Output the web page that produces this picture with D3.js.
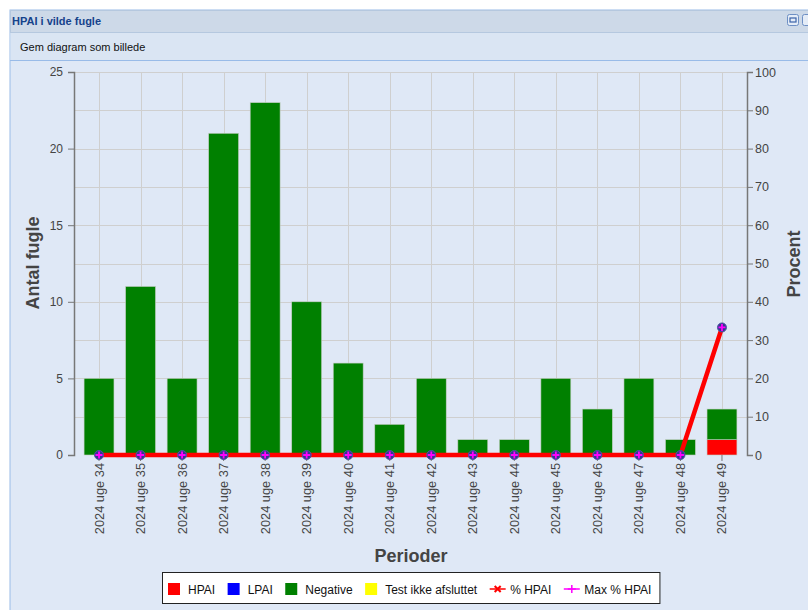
<!DOCTYPE html>
<html>
<head>
<meta charset="utf-8">
<script src="https://cdn.jsdelivr.net/npm/d3@7"></script>
<style>
    body { margin: 0; background: #fff; font-family: "Liberation Sans", Arial, sans-serif; }
    svg { display: block; }
</style>
</head>
<body>
<div id="chart"></div>
<script>
// Data
let periods = ["2024 uge 34", "2024 uge 35", "2024 uge 36", "2024 uge 37", "2024 uge 38", "2024 uge 39",
    "2024 uge 40", "2024 uge 41", "2024 uge 42", "2024 uge 43", "2024 uge 44", "2024 uge 45",
    "2024 uge 46", "2024 uge 47", "2024 uge 48", "2024 uge 49"];
let hpai = [0, 0, 0, 0, 0, 0, 0, 0, 0, 0, 0, 0, 0, 0, 0, 1];
let lpai = [0, 0, 0, 0, 0, 0, 0, 0, 0, 0, 0, 0, 0, 0, 0, 0];
let negative = [5, 11, 5, 21, 23, 10, 6, 2, 5, 1, 1, 5, 3, 5, 1, 2];
let notDone = [0, 0, 0, 0, 0, 0, 0, 0, 0, 0, 0, 0, 0, 0, 0, 0];
let pctHpai = [0, 0, 0, 0, 0, 0, 0, 0, 0, 0, 0, 0, 0, 0, 0, 33.3];
let maxPctHpai = [0, 0, 0, 0, 0, 0, 0, 0, 0, 0, 0, 0, 0, 0, 0, 33.3];
let countTicks = [0, 5, 10, 15, 20, 25];
let pctTicks = [0, 10, 20, 30, 40, 50, 60, 70, 80, 90, 100];

let series = [
    { name: "HPAI", values: hpai, color: "#ff0000" },
    { name: "LPAI", values: lpai, color: "#0000ff" },
    { name: "Negative", values: negative, color: "#008000" },
    { name: "Test ikke afsluttet", values: notDone, color: "#ffff00" }
];

let W = 808, H = 610;
let plot = { left: 74, right: 747, top: 72, bottom: 455 };
let textColor = "#444";

let svg = d3.select("#chart").append("svg")
    .attr("width", W)
    .attr("height", H);

// Panel frame
svg.append("rect").attr("x", 10).attr("y", 10).attr("width", W).attr("height", H)
    .attr("fill", "#dfe8f6").attr("stroke", "#99bbe8");
svg.append("rect").attr("x", 10.5).attr("y", 10.5).attr("width", W).attr("height", 22)
    .attr("fill", "#cdd9e8").attr("stroke", "#b5c8df");
svg.append("text").attr("x", 12).attr("y", 25)
    .style("font-size", "11px").style("font-weight", "bold").attr("fill", "#15428b")
    .text("HPAI i vilde fugle");
svg.append("rect").attr("x", 787.5).attr("y", 14.5).attr("width", 11).attr("height", 11).attr("rx", 2)
    .attr("fill", "#e4ecf7").attr("stroke", "#6d8fc4");
svg.append("rect").attr("x", 790).attr("y", 18).attr("width", 6).attr("height", 4)
    .attr("fill", "none").attr("stroke", "#3b63a8").attr("stroke-width", 1.2);
svg.append("rect").attr("x", 802.5).attr("y", 14.5).attr("width", 11).attr("height", 11).attr("rx", 2)
    .attr("fill", "#e4ecf7").attr("stroke", "#6d8fc4");
svg.append("rect").attr("x", 10.5).attr("y", 33).attr("width", W).attr("height", 27)
    .attr("fill", "#dae5f3");
svg.append("line").attr("x1", 10).attr("x2", W).attr("y1", 60.5).attr("y2", 60.5)
    .attr("stroke", "#99bbe8");
svg.append("text").attr("x", 20).attr("y", 51)
    .style("font-size", "11px").attr("fill", "#111")
    .text("Gem diagram som billede");

// Scales
let x = d3.scaleBand()
    .domain(periods)
    .range([plot.left, plot.right])
    .paddingInner(0.28)
    .paddingOuter(0.2425);

let y = d3.scaleLinear().domain([0, 25]).range([plot.bottom, plot.top]);
let yPct = d3.scaleLinear().domain([0, 100]).range([plot.bottom, plot.top]);

// Grid
let grid = svg.append("g").attr("stroke", "#cfcfcf").attr("stroke-width", 1);
grid.selectAll(".hgrid")
    .data(d3.range(2.5, 25.1, 2.5))
    .join("line")
    .attr("x1", plot.left).attr("x2", plot.right)
    .attr("y1", d => Math.round(y(d)) + 0.5).attr("y2", d => Math.round(y(d)) + 0.5);
grid.selectAll(".vgrid")
    .data(periods)
    .join("line")
    .attr("x1", d => Math.round(x(d) + x.bandwidth() / 2) + 0.5)
    .attr("x2", d => Math.round(x(d) + x.bandwidth() / 2) + 0.5)
    .attr("y1", plot.top).attr("y2", plot.bottom);

// Stacked bars
let rows = periods.map((p, i) => {
    let r = { period: p };
    series.forEach(s => r[s.name] = s.values[i]);
    return r;
});
let stack = d3.stack().keys(series.map(s => s.name))(rows);

svg.append("g").selectAll("g")
    .data(stack)
    .join("g")
    .attr("fill", (d, i) => series[i].color)
    .selectAll("rect")
    .data(d => d.filter(v => v[1] > v[0]))
    .join("rect")
    .attr("x", d => x(d.data.period))
    .attr("y", d => y(d[1]))
    .attr("width", x.bandwidth())
    .attr("height", d => y(d[0]) - y(d[1]))
    .attr("stroke", "#c4cdc4")
    .attr("stroke-width", 0.6);

// Axes
function styleAxis(g) {
    g.selectAll(".domain").attr("stroke", "#777").attr("stroke-width", 1.5);
    g.selectAll(".tick line").attr("stroke", "#777");
    g.selectAll("text").attr("fill", textColor)
        .style("font-family", "'Liberation Sans', Arial, sans-serif").style("font-size", "12px");
}

svg.append("g")
    .attr("transform", "translate(" + plot.left + ",0)")
    .call(d3.axisLeft(y).tickValues(countTicks).tickSize(6).tickPadding(5))
    .call(styleAxis);

svg.append("g")
    .attr("transform", "translate(" + plot.right + ",0)")
    .call(d3.axisRight(yPct).tickValues(pctTicks).tickSize(6).tickPadding(2))
    .call(styleAxis)
    .selectAll("text").style("font-size", "12.5px");

let xAxis = svg.append("g")
    .attr("transform", "translate(0," + plot.bottom + ")")
    .call(d3.axisBottom(x).tickSize(6).tickSizeOuter(0))
    .call(styleAxis);
xAxis.select(".domain").remove();
xAxis.selectAll("text")
    .style("font-size", "12.8px")
    .attr("text-anchor", "end")
    .attr("transform", "rotate(-90)")
    .attr("x", -8)
    .attr("y", 0)
    .attr("dy", "0.35em");

// Percent lines
let cx = d => x(d) + x.bandwidth() / 2;
let line = d3.line().x((d, i) => cx(periods[i])).y(d => yPct(d));

svg.append("path").datum(maxPctHpai)
    .attr("fill", "none").attr("stroke", "#ff00ff").attr("stroke-width", 2)
    .attr("d", line);
svg.append("path").datum(pctHpai)
    .attr("fill", "none").attr("stroke", "#ff0000").attr("stroke-width", 4.5)
    .attr("stroke-linejoin", "round")
    .attr("d", line);

let markers = svg.append("g").selectAll("g")
    .data(maxPctHpai)
    .join("g")
    .attr("transform", (d, i) => "translate(" + cx(periods[i]) + "," + yPct(d) + ")");
markers.append("circle").attr("r", 4.5).attr("fill", "#35368f").attr("stroke", "#4f55a8");
markers.append("path").attr("d", "M-3.5,0H3.5M0,-3.5V3.5")
    .attr("stroke", "#ff00ff").attr("stroke-width", 1.8);

// Axis titles
svg.append("text")
    .attr("transform", "translate(39,263) rotate(-90)")
    .attr("text-anchor", "middle")
    .style("font-size", "18px").style("font-weight", "bold").attr("fill", textColor)
    .text("Antal fugle");
svg.append("text")
    .attr("transform", "translate(800,264) rotate(-90)")
    .attr("text-anchor", "middle")
    .style("font-size", "18px").style("font-weight", "bold").attr("fill", textColor)
    .text("Procent");
svg.append("text")
    .attr("x", 411).attr("y", 562)
    .attr("text-anchor", "middle")
    .style("font-size", "18px").style("font-weight", "bold").attr("fill", textColor)
    .text("Perioder");

// Legend
let legendItems = series.map(s => ({ name: s.name, color: s.color, type: "box" }))
    .concat([
        { name: "% HPAI", color: "#ff0000", type: "line" },
        { name: "Max % HPAI", color: "#ff00ff", type: "plus" }
    ]);

let legendBox = svg.append("rect")
    .attr("x", 162.5).attr("y", 572.5).attr("height", 31)
    .attr("fill", "#fff").attr("stroke", "#222");

let legend = svg.append("g");
let lx = 168;
legendItems.forEach(item => {
    let g = legend.append("g").attr("transform", "translate(" + lx + ",0)");
    let symW;
    if (item.type === "box") {
        g.append("rect").attr("x", 0).attr("y", 583).attr("width", 12).attr("height", 12).attr("fill", item.color);
        symW = 20;
    } else {
        g.append("line").attr("x1", 0).attr("x2", 16).attr("y1", 589).attr("y2", 589)
            .attr("stroke", item.color).attr("stroke-width", 1.5);
        if (item.type === "line") {
            g.append("path").attr("d", "M5,586L11,592M11,586L5,592").attr("stroke", item.color).attr("stroke-width", 2);
        } else {
            g.append("path").attr("d", "M4,589H12M8,585V593").attr("stroke", item.color).attr("stroke-width", 1.5);
        }
        symW = 20.5;
    }
    let t = g.append("text").attr("x", symW).attr("y", 593.5)
        .style("font-size", "12px").attr("fill", "#111").text(item.name);
    lx += symW + t.node().getComputedTextLength() + 12.5;
});
legendBox.attr("width", lx - 162.5 - 4);
</script>
</body>
</html>
